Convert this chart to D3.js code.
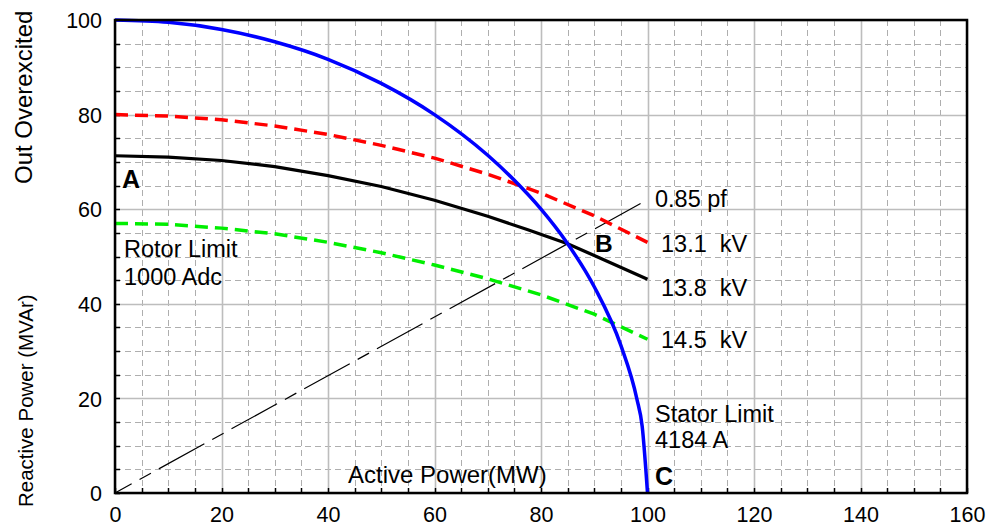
<!DOCTYPE html>
<html><head><meta charset="utf-8">
<script src="https://d3js.org/d3.v7.min.js"></script>
<style>body{margin:0;background:#fff}svg{display:block}text{font-family:"Liberation Sans",Arial,sans-serif}</style>
</head><body><svg id="c" width="990" height="527"></svg>
<script>
// Data
const xTicks = [0, 20, 40, 60, 80, 100, 120, 140, 160];
const yTicks = [0, 20, 40, 60, 80, 100];
const statorP = [0, 10, 20, 30, 40, 50, 60, 70, 75, 80, 85, 90, 95, 98, 99, 100];
const statorQ = [100, 99.5, 98, 95.4, 91.7, 86.6, 80, 71.4, 66.1, 60, 52.7, 43.6, 31.2, 19.9, 14.1, 0];
const kv131P = [0, 10, 20, 30, 40, 50, 60, 70, 80, 90, 100];
const kv131Q = [80, 79.7, 78.9, 77.6, 75.8, 73.5, 70.8, 67.4, 63.4, 58.6, 53];
const kv138P = [0, 10, 20, 30, 40, 50, 60, 70, 77.4, 85, 90, 100];
const kv138Q = [71.3, 71.0, 70.3, 69.0, 67.1, 64.8, 61.9, 58.5, 55.7, 52.7, 50.2, 45.2];
const kv145P = [0, 10, 20, 30, 40, 50, 60, 70, 80, 90, 100];
const kv145Q = [57, 56.8, 56.0, 54.8, 53.0, 50.8, 48.2, 45.3, 41.9, 37.8, 32.5];
const pfP = [0, 99.2];
const pfQ = [0, 61.5];

const svg = d3.select("#c");
const L = 115, R = 967, T = 20, B = 493;
const x = d3.scaleLinear().domain([0, 160]).range([L, R]);
const y = d3.scaleLinear().domain([0, 100]).range([B, T]);
const px = d => Math.round(x(d)) + 0.5;
const py = d => Math.round(y(d)) + 0.5;

// grid
const minorX = d3.range(0, 161, 5).filter(v => v % 20 !== 0);
const minorY = d3.range(0, 101, 5).filter(v => v % 20 !== 0);
const minorD = minorX.map(v => `M${px(v)},${T}V${B}`).join("") + minorY.map(v => `M${L},${py(v)}H${R}`).join("");
const majorD = xTicks.map(v => `M${px(v)},${T}V${B}`).join("") + yTicks.map(v => `M${L},${py(v)}H${R}`).join("");
svg.append("path").attr("d", minorD).attr("fill", "none").attr("stroke", "#aeaeae").attr("stroke-width", 1)
  .attr("stroke-dasharray", "6,4");
svg.append("path").attr("d", majorD).attr("fill", "none").attr("stroke", "#bdbdbd").attr("stroke-width", 1.6);

// axes
const xa = svg.append("g").attr("transform", `translate(0,${B})`)
  .call(d3.axisBottom(x).tickValues(xTicks).tickSize(0).tickPadding(14).tickFormat(d3.format("d")));
const ya = svg.append("g").attr("transform", `translate(${L},0)`)
  .call(d3.axisLeft(y).tickValues(yTicks).tickSize(0).tickPadding(13).tickFormat(d3.format("d")));
[xa, ya].forEach(a => { a.select(".domain").remove(); a.selectAll("text").attr("font-size", 21.5).attr("fill", "#000")
  .style("font-family", '"Liberation Sans",Arial,sans-serif'); });
ya.selectAll("text").attr("dy", "0.36em");
// minor inner ticks
const tickD = d3.range(0, 161, 5).map(v => `M${px(v)},${B}V${B - 5}`).join("") +
  d3.range(0, 101, 5).map(v => `M${L},${py(v)}H${L + 5}`).join("");
svg.append("path").attr("d", tickD).attr("fill", "none").attr("stroke", "#000").attr("stroke-width", 1.5);

const line = d3.line().x(d => x(d[0])).y(d => y(d[1]));
const zip = (a, b) => a.map((v, i) => [v, b[i]]);

// 0.85 pf line
svg.append("path").datum(zip(pfP, pfQ)).attr("d", line).attr("fill", "none").attr("stroke", "#000")
  .attr("stroke-width", 1.2).attr("stroke-dasharray", "52,9,13,9").attr("stroke-dashoffset", 33);

svg.append("path").datum(zip(kv145P, kv145Q)).attr("d", line).attr("fill", "none").attr("stroke", "#00ee00")
  .attr("stroke-width", 3.5).attr("stroke-dasharray", "13,7");
svg.append("path").datum(zip(kv131P, kv131Q)).attr("d", line).attr("fill", "none").attr("stroke", "#ff0000")
  .attr("stroke-width", 3.5).attr("stroke-dasharray", "13,7");
svg.append("path").datum(zip(kv138P, kv138Q)).attr("d", line).attr("fill", "none").attr("stroke", "#000")
  .attr("stroke-width", 3.2);
svg.append("path").datum(zip(statorP, statorQ)).attr("d", d3.line().x(d => x(d[0])).y(d => y(d[1])).curve(d3.curveMonotoneX))
  .attr("fill", "none").attr("stroke", "#0000ff").attr("stroke-width", 3.5);

// frame
svg.append("rect").attr("x", L).attr("y", T).attr("width", R - L).attr("height", B - T)
  .attr("fill", "none").attr("stroke", "#000").attr("stroke-width", 2.5);

// labels
const t = (tx, ty, s, size, bold, anchor) => svg.append("text").attr("x", tx).attr("y", ty).text(s)
  .attr("font-size", size).attr("font-weight", bold ? "bold" : "normal").attr("text-anchor", anchor || "start").attr("fill", "#000");
t(122, 188, "A", 25, true);
t(124, 257, "Rotor Limit", 23.5);
t(124, 285, "1000 Adc", 23.5);
t(595, 252, "B", 24.5, true);
t(655, 207, "0.85 pf", 23.5);
t(661, 252, "13.1  kV", 23.5).style("white-space", "pre");
t(661, 296, "13.8  kV", 23.5).style("white-space", "pre");
t(661, 348, "14.5  kV", 23.5).style("white-space", "pre");
t(655, 422, "Stator Limit", 23.5);
t(655, 448, "4184 A", 23.5);
t(655, 485, "C", 25, true);
t(348, 483, "Active Power(MW)", 24);
svg.append("text").attr("transform", "translate(33,507) rotate(-90)").text("Reactive Power (MVAr)")
  .attr("font-size", 20.5).attr("fill", "#000");
svg.append("text").attr("transform", "translate(32,184) rotate(-90)").text("Out Overexcited")
  .attr("font-size", 24).attr("fill", "#000");
</script></body></html>
